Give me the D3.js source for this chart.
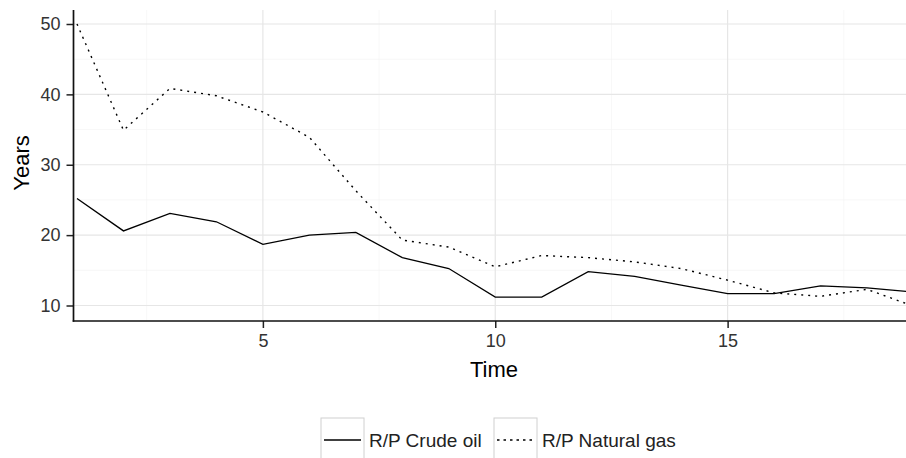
<!DOCTYPE html>
<html>
<head>
<meta charset="utf-8">
<script src="https://cdn.jsdelivr.net/npm/d3@7"></script>
<style>
	body { margin: 0; background: #fff; }
	svg { display: block; font-family: "Liberation Sans", Arial, sans-serif; }
</style>
</head>
<body>
<div id="chart"></div>
<script>
// values
var time = [1, 2, 3, 4, 5, 6, 7, 8, 9, 10, 11, 12, 13, 14, 15, 16, 17, 18, 19];
var crude_oil = [25.2, 20.6, 23.1, 21.9, 18.7, 20.0, 20.4, 16.8, 15.25, 11.2, 11.2, 14.8, 14.15, 12.9, 11.7, 11.7, 12.8, 12.5, 11.9];
var natural_gas = [50.0, 34.9, 40.85, 39.8, 37.5, 33.9, 26.3, 19.3, 18.3, 15.5, 17.1, 16.8, 16.2, 15.25, 13.6, 11.8, 11.3, 12.3, 9.9];
var x_ticks = [5, 10, 15];
var x_minor = [2.5, 7.5, 12.5, 17.5];
var y_ticks = [10, 20, 30, 40, 50];
var y_minor = [15, 25, 35, 45];
var series_names = ["R/P Crude oil", "R/P Natural gas"];

var width = 906, height = 458;
var panel = {left: 73.5, right: 915, top: 10, bottom: 321};

var x = d3.scaleLinear().domain([1, 19]).range([77, 913.5]);
var y = d3.scaleLinear().domain([10, 50]).range([305.5, 24]);

var svg = d3.select("#chart").append("svg")
	.attr("width", width)
	.attr("height", height);

// grid
svg.selectAll("line.xminor").data(x_minor).enter().append("line")
	.attr("x1", function(d) { return x(d); }).attr("x2", function(d) { return x(d); })
	.attr("y1", panel.top).attr("y2", panel.bottom)
	.style("stroke", "#f3f3f3").style("stroke-width", 0.7);
svg.selectAll("line.yminor").data(y_minor).enter().append("line")
	.attr("y1", function(d) { return y(d); }).attr("y2", function(d) { return y(d); })
	.attr("x1", panel.left).attr("x2", panel.right)
	.style("stroke", "#f3f3f3").style("stroke-width", 0.7);
svg.selectAll("line.xmajor").data(x_ticks).enter().append("line")
	.attr("x1", function(d) { return x(d); }).attr("x2", function(d) { return x(d); })
	.attr("y1", panel.top).attr("y2", panel.bottom)
	.style("stroke", "#e6e6e6").style("stroke-width", 1.2);
svg.selectAll("line.ymajor").data(y_ticks).enter().append("line")
	.attr("y1", function(d) { return y(d); }).attr("y2", function(d) { return y(d); })
	.attr("x1", panel.left).attr("x2", panel.right)
	.style("stroke", "#e6e6e6").style("stroke-width", 1.2);

// lines
var line = d3.line()
	.x(function(d, i) { return x(time[i]); })
	.y(function(d) { return y(d); });

svg.append("path").datum(crude_oil)
	.attr("d", line)
	.style("fill", "none").style("stroke", "#000").style("stroke-width", 1.3);
svg.append("path").datum(natural_gas)
	.attr("d", line)
	.style("fill", "none").style("stroke", "#000").style("stroke-width", 1.4)
	.style("stroke-dasharray", "2,5");

// axes
var x_axis = svg.append("g")
	.attr("transform", "translate(0," + panel.bottom + ")")
	.call(d3.axisBottom(x).tickValues(x_ticks).tickSize(7).tickPadding(6).tickSizeOuter(0));
var y_axis = svg.append("g")
	.attr("transform", "translate(" + panel.left + ",0)")
	.call(d3.axisLeft(y).tickValues(y_ticks).tickSize(7).tickPadding(6).tickSizeOuter(0));

[x_axis, y_axis].forEach(function(ax) {
	ax.select(".domain").remove();
	ax.selectAll(".tick line").style("stroke", "#222").style("stroke-width", 1.5);
	ax.selectAll(".tick text")
		.style("font-family", "'Liberation Sans', Arial, sans-serif")
		.style("font-size", "18px")
		.style("fill", "#333");
});

svg.append("line")
	.attr("x1", panel.left).attr("x2", panel.left)
	.attr("y1", panel.top).attr("y2", panel.bottom + 0.8)
	.style("stroke", "#111").style("stroke-width", 1.7);
svg.append("line")
	.attr("x1", panel.left - 0.8).attr("x2", panel.right)
	.attr("y1", panel.bottom).attr("y2", panel.bottom)
	.style("stroke", "#111").style("stroke-width", 1.7);

// titles
svg.append("text")
	.attr("x", 494).attr("y", 377)
	.attr("text-anchor", "middle")
	.style("font-size", "22px")
	.text("Time");
svg.append("text")
	.attr("transform", "translate(29,163) rotate(-90)")
	.attr("text-anchor", "middle")
	.style("font-size", "22px")
	.text("Years");

// legend
var legend_x = [321, 494];
var key = svg.selectAll("g.key").data(series_names).enter().append("g")
	.attr("transform", function(d, i) { return "translate(" + legend_x[i] + ",418)"; });
key.append("rect")
	.attr("width", 43).attr("height", 43)
	.style("fill", "#fff").style("stroke", "#d0d0d0").style("stroke-width", 1);
key.append("line")
	.attr("x1", 3).attr("x2", 40).attr("y1", 22).attr("y2", 22)
	.style("stroke", "#000").style("stroke-width", 1.3)
	.style("stroke-dasharray", function(d, i) { return i == 1 ? "2.5,4" : null; });
key.append("text")
	.attr("x", 48).attr("y", 28.5)
	.style("font-size", "19px")
	.style("fill", "#222")
	.text(function(d) { return d; });
</script>
</body>
</html>
